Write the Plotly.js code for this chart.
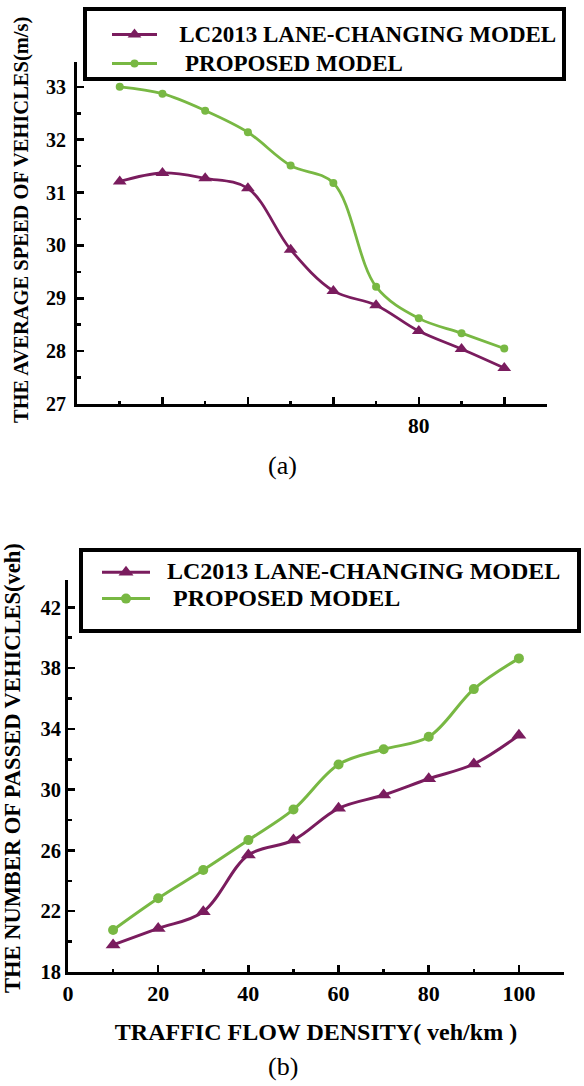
<!DOCTYPE html>
<html>
<head>
<meta charset="utf-8">
<script src="https://cdn.plot.ly/plotly-3.0.1.min.js"></script>
<style>html,body{margin:0;padding:0;background:#fff;}#chart{width:584px;height:1086px;}</style>
</head>
<body>
<div id="chart"></div>
<script>
// ---- data ----
const density = [10, 20, 30, 40, 50, 60, 70, 80, 90, 100];
const speedLC = [31.21, 31.37, 31.27, 31.08, 29.92, 29.14, 28.87, 28.38, 28.04, 27.68];
const speedProposed = [33.0, 32.87, 32.55, 32.14, 31.51, 31.18, 29.22, 28.62, 28.34, 28.05];
const passedLC = [19.78, 20.87, 21.97, 25.7, 26.68, 28.77, 29.65, 30.72, 31.69, 33.58];
const passedProposed = [20.76, 22.85, 24.71, 26.68, 28.7, 31.66, 32.66, 33.48, 36.62, 38.64];
const seriesNames = ['LC2013 LANE-CHANGING MODEL', 'PROPOSED MODEL'];
const xTickValsA = [20, 40, 60, 80, 100];
const xTickTextA = ['', '', '', '80', ''];
const xTickValsB = [0, 20, 40, 60, 80, 100];
const xTickTextB = ['0', '20', '40', '60', '80', '100'];

const PURPLE = '#7a1c5e';
const GREEN = '#78b843';
const SERIF = 'Liberation Serif, Times New Roman, serif';
const W = 584, H = 1086;
const px = v => v / W;
const py = v => 1 - v / H;
const NB = n => '\u00a0'.repeat(n);
const legendLabel = (txt, pad, size) => '<span style="font-size:' + size + 'px">' + NB(pad) + txt + '</span>';

const traces = [
  {x: density, y: speedLC, name: legendLabel(seriesNames[0], 3, 23), xaxis: 'x', yaxis: 'y', legend: 'legend',
   mode: 'lines+markers', line: {color: PURPLE, width: 2.8, shape: 'spline'},
   marker: {symbol: 'triangle-up', size: 12, color: PURPLE}},
  {x: density, y: speedProposed, name: legendLabel(seriesNames[1], 4, 23), xaxis: 'x', yaxis: 'y', legend: 'legend',
   mode: 'lines+markers', line: {color: GREEN, width: 2.8, shape: 'spline'},
   marker: {symbol: 'circle', size: 8, color: GREEN}},
  {x: density, y: passedLC, name: legendLabel(seriesNames[0], 2, 24), xaxis: 'x2', yaxis: 'y2', legend: 'legend2',
   mode: 'lines+markers', line: {color: PURPLE, width: 3, shape: 'spline'},
   marker: {symbol: 'triangle-up', size: 13, color: PURPLE}},
  {x: density, y: passedProposed, name: legendLabel(seriesNames[1], 3, 24), xaxis: 'x2', yaxis: 'y2', legend: 'legend2',
   mode: 'lines+markers', line: {color: GREEN, width: 3, shape: 'spline'},
   marker: {symbol: 'circle', size: 10, color: GREEN}}
];

const axisCommon = {
  showline: true, linecolor: '#000', linewidth: 3, showgrid: false, zeroline: false,
  ticks: 'inside', tickcolor: '#000', tickwidth: 2.5, ticklen: 7
};

const layout = {
  width: W, height: H,
  margin: {l: 0, r: 0, t: 0, b: 0},
  paper_bgcolor: '#fff', plot_bgcolor: '#fff',
  showlegend: true,
  xaxis: Object.assign({}, axisCommon, {
    domain: [px(77), px(547)], range: [0, 110], anchor: 'y',
    tickmode: 'array', tickvals: xTickValsA, ticktext: xTickTextA,
    tickfont: {family: SERIF, size: 21.5, weight: 700, color: '#000'},
    minor: {tickmode: 'array', tickvals: [10, 30, 50, 70, 90, 110], ticks: 'inside', ticklen: 3, tickwidth: 2.5, tickcolor: '#000'}
  }),
  yaxis: Object.assign({}, axisCommon, {
    domain: [py(404), py(62)], range: [27, 33.47], anchor: 'x',
    tickmode: 'linear', tick0: 27, dtick: 1, ticklabelstandoff: 4,
    tickfont: {family: SERIF, size: 20, weight: 700, color: '#000'},
    minor: {tickmode: 'linear', tick0: 27, dtick: 0.5, ticks: 'inside', ticklen: 4, tickwidth: 2.5, tickcolor: '#000'}
  }),
  xaxis2: Object.assign({}, axisCommon, {
    domain: [px(68), px(564)], range: [0, 110], anchor: 'y2',
    tickmode: 'array', tickvals: xTickValsB, ticktext: xTickTextB,
    tickfont: {family: SERIF, size: 22, weight: 700, color: '#000'},
    minor: {tickmode: 'array', tickvals: [10, 30, 50, 70, 90, 110], ticks: 'inside', ticklen: 3, tickwidth: 2.5, tickcolor: '#000'},
    title: {text: 'TRAFFIC FLOW DENSITY( veh/km )', font: {family: SERIF, size: 24, weight: 700, color: '#000'}, standoff: 18}
  }),
  yaxis2: Object.assign({}, axisCommon, {
    domain: [py(972), py(580)], range: [18, 43.8], anchor: 'x2',
    tickmode: 'linear', tick0: 18, dtick: 4,
    tickfont: {family: SERIF, size: 20.5, weight: 700, color: '#000'},
    minor: {tickmode: 'linear', tick0: 18, dtick: 2, ticks: 'inside', ticklen: 4, tickwidth: 2.5, tickcolor: '#000'}
  }),
  legend: {
    x: px(107), y: py(15), xanchor: 'left', yanchor: 'top',
    bgcolor: 'rgba(0,0,0,0)', borderwidth: 0, itemwidth: 45, tracegroupgap: 0,
    font: {family: SERIF, size: 20, weight: 700, color: '#000'}
  },
  legend2: {
    x: px(97), y: py(554), xanchor: 'left', yanchor: 'top',
    bgcolor: 'rgba(0,0,0,0)', borderwidth: 0, itemwidth: 48, tracegroupgap: 0,
    font: {family: SERIF, size: 18, weight: 700, color: '#000'}
  },
  shapes: [
    {type: 'rect', xref: 'paper', yref: 'paper', x0: px(85), x1: px(564), y0: py(79), y1: py(9),
     line: {color: '#000', width: 4}, fillcolor: 'rgba(0,0,0,0)', layer: 'above'},
    {type: 'rect', xref: 'paper', yref: 'paper', x0: px(81), x1: px(579), y0: py(631), y1: py(550),
     line: {color: '#000', width: 4}, fillcolor: 'rgba(0,0,0,0)', layer: 'above'}
  ],
  annotations: [
    {text: 'THE AVERAGE SPEED OF VEHICLES(m/s)', xref: 'paper', yref: 'paper', x: px(21), y: py(220),
     textangle: -90, showarrow: false, xanchor: 'center', yanchor: 'middle',
     font: {family: SERIF, size: 20.5, weight: 700, color: '#000'}},
    {text: 'THE NUMBER OF PASSED VEHICLES(veh)', xref: 'paper', yref: 'paper', x: px(12), y: py(768),
     textangle: -90, showarrow: false, xanchor: 'center', yanchor: 'middle',
     font: {family: SERIF, size: 22.5, weight: 700, color: '#000'}},
    {text: '(a)', xref: 'paper', yref: 'paper', x: px(282), y: py(465), showarrow: false,
     xanchor: 'center', yanchor: 'middle', font: {family: SERIF, size: 26, color: '#000'}},
    {text: '(b)', xref: 'paper', yref: 'paper', x: px(283), y: py(1066), showarrow: false,
     xanchor: 'center', yanchor: 'middle', font: {family: SERIF, size: 26, color: '#000'}}
  ]
};

Plotly.newPlot('chart', traces, layout, {displayModeBar: false, staticPlot: true});
</script>
</body>
</html>
